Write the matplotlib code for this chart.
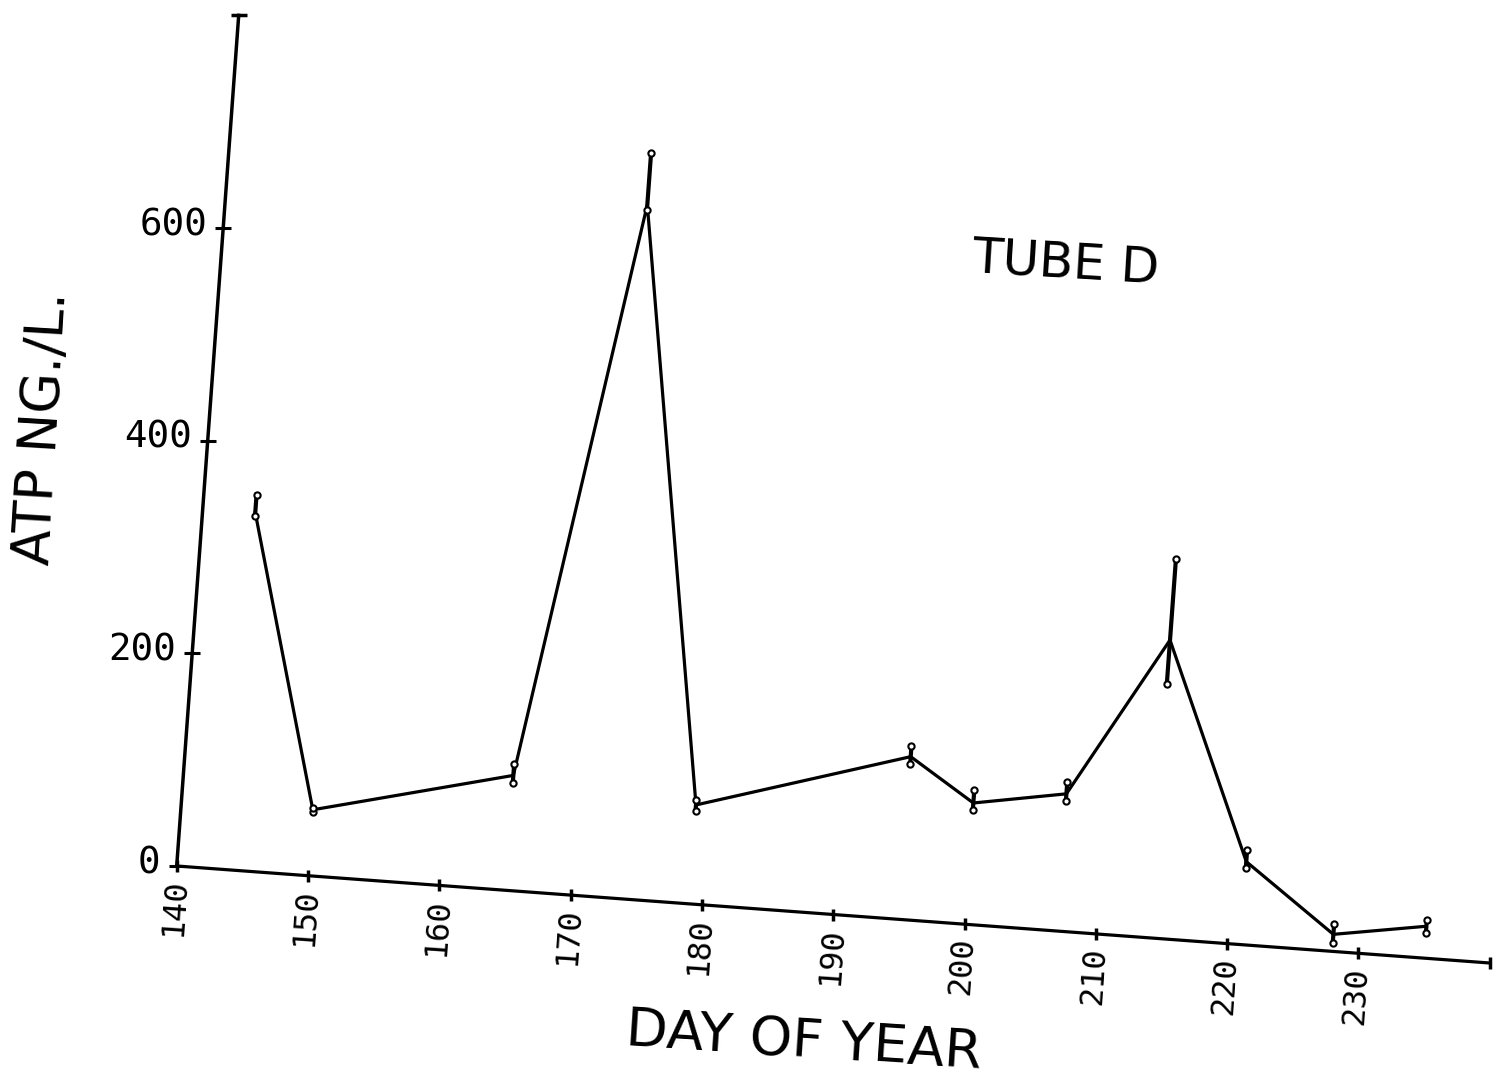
import matplotlib.pyplot as plt
import numpy as np
from matplotlib.transforms import Affine2D

# ATP in tube D, day-of-year samples with error bars (lower, upper)
days = [144, 150, 165, 172, 179, 195, 200, 207, 214, 221, 228, 235]
atp = [336, 62, 108, 651, 93, 153, 114, 129, 280, 78, 16, 30]
err_lo = [3, 2, 7, 5, 6, 7, 7, 7, 41, 6, 8, 6]
err_hi = [17, 2, 11, 49, 5, 10, 12, 11, 76, 11, 10, 6]

x_ticks = [140, 150, 160, 170, 180, 190, 200, 210, 220, 230, 240]
x_ticklabels = ['140', '150', '160', '170', '180', '190', '200', '210', '220', '230']
y_ticks = [0, 200, 400, 600]
y_top = 800

fig = plt.figure(figsize=(14.94, 10.8), dpi=100)
ax = fig.add_axes([0, 0, 1, 1])
ax.set_xlim(0, 1494)
ax.set_ylim(1080, 0)
ax.axis('off')

# the pen plotter sheet sits slightly rotated, so map (day, ATP) through a tilted frame
tilt = np.array([[13.13, 0.0775, 176.7 - 13.13 * 140],
                 [0.97, -1.0633, 866 - 0.97 * 140],
                 [0, 0, 1]])
sheet = Affine2D(tilt) + ax.transData

ink = 'black'

# axes
ax.plot([x_ticks[0], x_ticks[-1]], [0, 0], color=ink, lw=2.3, transform=sheet)
ax.plot([x_ticks[0], x_ticks[0]], [0, y_top], color=ink, lw=2.5, transform=sheet)
ax.plot([x_ticks[0]], [y_top], marker='_', ms=12, mew=2.5, color=ink, transform=sheet)

ax.plot(x_ticks, [0] * len(x_ticks), ls='none', marker='|', ms=8, mew=2.5,
        color=ink, transform=sheet)
ax.plot([x_ticks[0]] * len(y_ticks), y_ticks, ls='none', marker='_', ms=12, mew=2.2,
        color=ink, transform=sheet)

for d, lab in zip(x_ticks, x_ticklabels):
    ax.annotate(lab, xy=(d, 0), xycoords=sheet, xytext=(-2, -12),
                textcoords='offset pixels', rotation=86, ha='center', va='top',
                fontsize=23, family='DejaVu Sans Mono', color=ink)
for v in y_ticks:
    ax.annotate(str(v), xy=(x_ticks[0], v), xycoords=sheet, xytext=(-16, 3),
                textcoords='offset pixels', ha='right', va='center',
                fontsize=27, family='DejaVu Sans Mono', color=ink)

# data line
ax.plot(days, atp, color=ink, lw=2.3, solid_joinstyle='miter', transform=sheet)

# error bars with pen dots at the ends
for d, v, lo, hi in zip(days, atp, err_lo, err_hi):
    ax.plot([d, d], [v - lo, v + hi], color=ink, lw=3.0, transform=sheet)
    ax.plot([d, d], [v - lo, v + hi], ls='none', marker='o', ms=4.5,
            mfc='white', mec=ink, mew=1.5, transform=sheet)

ax.text(42, 428, 'ATP NG./L.', rotation=86.5, ha='center', va='center',
        fontsize=38, color=ink)
ax.text(804, 1042, 'DAY OF YEAR', rotation=-3.8, ha='center', va='center',
        fontsize=39, color=ink)
ax.text(1066, 263, 'TUBE D', rotation=-3.5, ha='center', va='center',
        fontsize=36, color=ink)

plt.savefig('out.png', dpi=100, facecolor='white')
